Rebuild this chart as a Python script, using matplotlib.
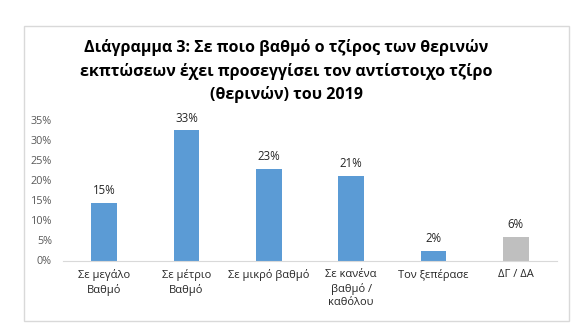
import matplotlib
matplotlib.use("Agg")
import matplotlib.pyplot as plt
from matplotlib.patches import Rectangle

plt.rcParams['font.family'] = ['Open Sans', 'DejaVu Sans']

categories = ["Σε μεγάλο\nΒαθμό", "Σε μέτριο\nΒαθμό", "Σε μικρό βαθμό",
              "Σε κανένα\nβαθμό /\nκαθόλου", "Τον ξεπέρασε", "ΔΓ / ΔΑ"]
values = [14.4, 32.5, 22.9, 21.1, 2.4, 5.9]
value_labels = ["15%", "33%", "23%", "21%", "2%", "6%"]
colors = ["#5B9BD5"] * 5 + ["#BFBFBF"]
yticks = [0, 5, 10, 15, 20, 25, 30, 35]

fig = plt.figure(figsize=(5.73, 3.23), dpi=100)

# chart border
fig.patches.append(Rectangle((23.5 / 573, 2 / 323), 545 / 573, 295 / 323,
                             transform=fig.transFigure, fill=False,
                             edgecolor="#D9D9D9", linewidth=1))

ax = fig.add_axes([63 / 573, 1 - 260.5 / 323, 494 / 573, 140.2 / 323])
x = range(len(categories))
bars = ax.bar(x, values, width=0.31, color=colors)
for b, lab in zip(bars, value_labels):
    ax.annotate(lab, (b.get_x() + b.get_width() / 2, b.get_height()),
                xytext=(0, 4), textcoords="offset points",
                ha="center", va="bottom", fontsize=8.3, color="#262626")

ax.set_xlim(-0.5, len(categories) - 0.5)
ax.set_ylim(0, 35)
ax.set_yticks(yticks)
ax.set_yticklabels([f"{t}%" for t in yticks])
ax.set_xticks(list(x))
ax.set_xticklabels(categories, linespacing=1.3)
ax.tick_params(axis="y", length=0, pad=8, labelsize=7.8, labelcolor="#595959")
ax.tick_params(axis="x", length=0, pad=6, labelsize=8, labelcolor="#262626")
for s in ["top", "right", "left"]:
    ax.spines[s].set_visible(False)
ax.spines["bottom"].set_color("#D9D9D9")

fig.text(0.5, 1 - 71 / 323,
         "Διάγραμμα 3: Σε ποιο βαθμό ο τζίρος των θερινών\n"
         "εκπτώσεων έχει προσεγγίσει τον αντίστοιχο τζίρο\n"
         "(θερινών) του 2019",
         ha="center", va="center", fontsize=11.5, fontweight="bold",
         linespacing=1.5, color="#000000")

fig.savefig("out.png", dpi=100)
